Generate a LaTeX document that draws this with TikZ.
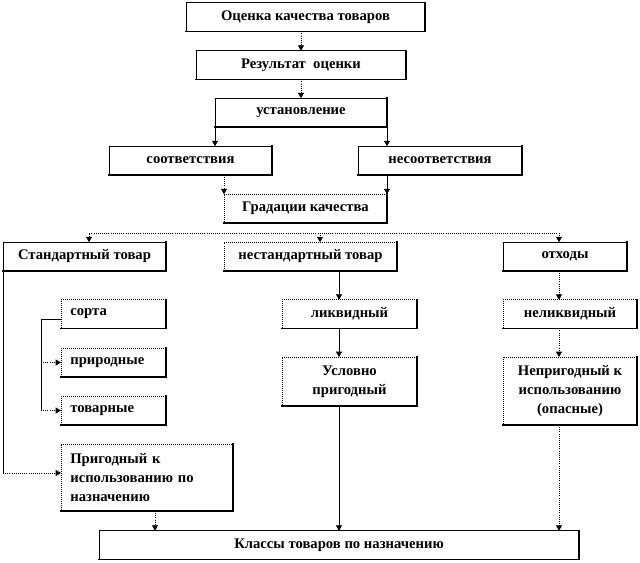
\documentclass[tikz,border=0pt]{standalone}
\usepackage{fontspec}
\setmainfont{Liberation Serif}
\usetikzlibrary{arrows.meta}

\begin{document}
    \begin{tikzpicture}[x=0.75pt, y=-0.75pt, font=\bfseries\fontsize{11}{14}\selectfont, every node/.style={inner sep=0pt, outer sep=0pt, minimum height=21.5pt, align=center}, box/.style={draw, fill=white, line width=0.5pt, append after command={(\tikzlastnode.north east) edge[line width=1.1pt, line cap=rect] (\tikzlastnode.south east) (\tikzlastnode.south east) edge[line width=1.1pt, line cap=rect] (\tikzlastnode.south west)}}, dbox/.style={box, densely dotted}, lbox/.style={dbox, align=left, inner xsep=7pt}, dotline/.style={densely dotted, line width=0.6pt}, >={Triangle[length=4pt, width=4.5pt]}]
        \path[use as bounding box, fill=white] (0,0) rectangle (640,563);

        \node[box, minimum width=179.25pt] (otsenka) at (305.5,17) {Оценка качества товаров};
        \node[box, minimum width=157.5pt] (rezultat) at (301,65) {Результат\ \ оценки};
        \node[box, minimum width=129pt] (ustanovl) at (301,112.5) {установление};
        \node[box, minimum width=122.25pt] (sootv) at (190.5,160.5) {соответствия};
        \node[box, minimum width=123pt] (nesootv) at (440,160.5) {несоответствия};
        \node[dbox, minimum width=122.25pt] (gradacii) at (305.5,208.5) {Градации качества};

        \node[box, minimum width=122.25pt] (standart) at (84.5,256.5) {Стандартный товар};
        \node[dbox, minimum width=129.75pt] (nestandart) at (310.5,256.5) {нестандартный товар};
        \node[box, minimum width=93pt] (othody) at (565,256.5) {отходы};

        \node[lbox, text width=64.75pt] (sorta) at (113.5,314) {сорта};
        \node[lbox, text width=64.75pt] (prirodnye) at (113.5,362.5) {природные};
        \node[lbox, text width=64.75pt] (tovarnye) at (113.5,410.5) {товарные};
        \node[lbox, text width=115pt, minimum height=50.25pt] (prigodnyj) at (147,477.5) {Пригодный к\\ использованию по\\ назначению};

        \node[dbox, minimum width=101.25pt] (likvid) at (349.5,314) {ликвидный};
        \node[dbox, minimum width=101.25pt, minimum height=36.75pt] (uslovno) at (349.5,381.5) {Условно\\ пригодный};
        \node[dbox, minimum width=100.5pt] (nelikvid) at (570,314) {неликвидный};
        \node[dbox, minimum width=100.5pt, minimum height=51pt] (neprigod) at (570,391) {Непригодный к\\ использованию\\ (опасные)};

        \node[box, minimum width=360pt] (klassy) at (339,545) {Классы товаров по назначению};

        \draw[dotline, ->] (rezultat.north |- otsenka.south) -- (rezultat.north);
        \draw[dotline, ->] (rezultat.south) -- (ustanovl.north);
        \draw[->] (ustanovl.south west) -- (ustanovl.south west |- sootv.north);
        \draw[->] (ustanovl.south east) -- (ustanovl.south east |- nesootv.north);
        \draw[dotline, ->] (gradacii.north west |- sootv.south) -- (gradacii.north west);
        \draw[->] (gradacii.north east |- nesootv.south) -- (gradacii.north east);

        \coordinate (busL) at (89,233);
        \coordinate (busM) at (320,233);
        \coordinate (busR) at (559,233);
        \draw[dotline, <->] (busL |- standart.north) -- (busL) -- (busR) -- (busR |- othody.north);
        \draw[dotline, ->] (busM) -- (busM |- nestandart.north);

        \coordinate (brk) at (41,319);
        \draw (sorta.west |- brk) -- (brk) -- (brk |- tovarnye.west);
        \draw[dotline, ->] (brk |- prirodnye.west) -- (prirodnye.west);
        \draw[dotline, ->] (brk |- tovarnye.west) -- (tovarnye.west);
        \draw (standart.south west) -- (standart.south west |- prigodnyj.177);
        \draw[dotline, ->] (standart.south west |- prigodnyj.177) -- (prigodnyj.177);
        \draw[dotline, ->] ([xshift=6pt]prigodnyj.south) -- ([xshift=6pt]prigodnyj.south |- klassy.north);

        \draw[->] (klassy.north |- nestandart.south) -- (klassy.north |- likvid.north);
        \draw[->] (klassy.north |- likvid.south) -- (klassy.north |- uslovno.north);
        \draw[->] (klassy.north |- uslovno.south) -- (klassy.north);

        \draw[dotline, ->] (busR |- othody.south) -- (busR |- nelikvid.north);
        \draw[dotline, ->] (busR |- nelikvid.south) -- (busR |- neprigod.north);
        \draw[dotline, ->] (busR |- neprigod.south) -- (busR |- klassy.north);
    \end{tikzpicture}
\end{document}
